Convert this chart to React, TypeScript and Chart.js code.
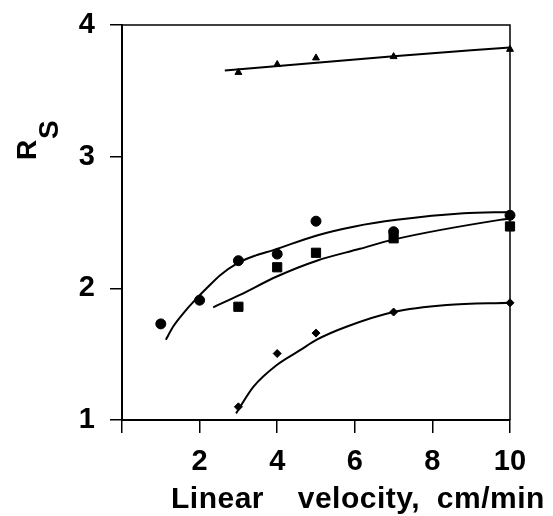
import React, { useEffect, useRef } from 'react';
import { Chart, registerables } from 'chart.js';

Chart.register(...registerables);

// Measured markers
const triX = [3, 4, 5, 7, 10];
const triY = [3.64, 3.7, 3.75, 3.76, 3.815];
const cirX = [1, 2, 3, 4, 5, 7, 10];
const cirY = [1.73, 1.91, 2.21, 2.26, 2.51, 2.43, 2.555];
const sqX = [3, 4, 5, 7, 10];
const sqY = [1.86, 2.16, 2.27, 2.38, 2.47];
const diaX = [3, 4, 5, 7, 10];
const diaY = [1.1, 1.505, 1.66, 1.82, 1.89];

// Hand-drawn fitted curves
const triCurveX = [2.65, 7, 10];
const triCurveY = [3.655, 3.762, 3.83];
const cirCurveX = [1.13, 1.32, 1.58, 1.88, 2.18, 2.53, 2.97, 3.45, 3.9, 5.0, 6.0, 7.08, 8.8, 10];
const cirCurveY = [1.61, 1.71, 1.81, 1.91, 2.0, 2.1, 2.19, 2.25, 2.29, 2.4, 2.47, 2.52, 2.57, 2.58];
const sqCurveX = [2.35, 3.04, 3.99, 5.02, 6.13, 6.99, 9.74, 10];
const sqCurveY = [1.856, 1.95, 2.09, 2.21, 2.3, 2.37, 2.52, 2.53];
const diaCurveX = [2.94, 3.38, 4, 4.59, 5.02, 5.8, 7, 8.37, 10];
const diaCurveY = [1.05, 1.25, 1.42, 1.53, 1.61, 1.71, 1.82, 1.873, 1.89];

// Ticks and labels
const xTickValues = [0, 2, 4, 6, 8, 10];
const yTickValues = [1, 2, 3, 4];
const xTitle = 'Linear  velocity, cm/min';
const yTitleMain = 'R';
const yTitleSub = 'S';

const FONT = "'Liberation Sans', Arial, Helvetica, sans-serif";

const pts = (xs: number[], ys: number[]) => xs.map((x, i) => ({ x, y: ys[i] }));

const markerSet = (data: any, style: string, radius: number) => ({
  type: 'scatter' as const,
  data,
  showLine: false,
  pointStyle: style,
  pointRadius: radius,
  pointBackgroundColor: '#000',
  pointBorderColor: '#000',
  pointBorderWidth: 1,
  clip: false,
});

const curveSet = (data: any) => ({
  type: 'line' as const,
  data,
  showLine: true,
  borderColor: '#000',
  borderWidth: 2,
  pointRadius: 0,
  fill: false,
  cubicInterpolationMode: 'monotone' as const,
  clip: false,
});

const framePlugin = {
  id: 'frame',
  afterDraw(chart: any) {
    const { ctx, chartArea } = chart;
    const { left, right, top, bottom } = chartArea;
    ctx.save();
    ctx.strokeStyle = '#000';
    ctx.lineWidth = 1.5;
    ctx.beginPath();
    ctx.moveTo(left, top);
    ctx.lineTo(right, top);
    ctx.lineTo(right, bottom);
    ctx.stroke();

    // x title
    ctx.fillStyle = '#000';
    ctx.font = `bold 30px ${FONT}`;
    (ctx as any).wordSpacing = '8px';
    (ctx as any).letterSpacing = '0.5px';
    ctx.textAlign = 'left';
    ctx.textBaseline = 'alphabetic';
    ctx.fillText(xTitle, 171, 508);
    (ctx as any).wordSpacing = '0px';
    (ctx as any).letterSpacing = '0px';

    // y title R_S rotated
    ctx.translate(36, 160);
    ctx.rotate(-Math.PI / 2);
    ctx.font = `bold 28px ${FONT}`;
    ctx.fillText(yTitleMain, 0, 0);
    ctx.fillText(yTitleSub, 21, 22);
    ctx.restore();
  },
};

export default function App() {
  const ref = useRef<HTMLCanvasElement>(null);
  useEffect(() => {
    if (!ref.current) return;
    const chart = new Chart(ref.current, {
      type: 'scatter',
      data: {
        datasets: [
          curveSet(pts(triCurveX, triCurveY)),
          curveSet(pts(cirCurveX, cirCurveY)),
          curveSet(pts(sqCurveX, sqCurveY)),
          curveSet(pts(diaCurveX, diaCurveY)),
          markerSet(pts(triX, triY), 'triangle', 4),
          markerSet(pts(cirX, cirY), 'circle', 5),
          markerSet(pts(sqX, sqY), 'rect', 6.5),
          markerSet(pts(diaX, diaY), 'rectRot', 4),
        ] as any,
      },
      options: {
        animation: false,
        responsive: false,
        events: [],
        layout: { padding: { top: 25, right: 43, left: 0, bottom: 0 } },
        plugins: { legend: { display: false }, tooltip: { enabled: false } },
        scales: {
          x: {
            type: 'linear',
            min: 0,
            max: 10,
            afterBuildTicks: (s: any) => {
              s.ticks = xTickValues.map((v) => ({ value: v }));
            },
            afterFit: (s: any) => {
              s.height = 96;
              s.paddingLeft = 0;
              s.paddingRight = 0;
            },
            ticks: {
              color: '#000',
              font: { family: FONT, size: 29, weight: 'bold' },
              padding: 12,
              maxRotation: 0,
              callback: (v: any) => (v === 0 ? '' : String(v)),
            },
            grid: { drawOnChartArea: false, drawTicks: true, tickLength: 13, color: '#000', lineWidth: 1.5 },
            border: { display: true, color: '#000', width: 2 },
          },
          y: {
            type: 'linear',
            min: 1,
            max: 4,
            afterBuildTicks: (s: any) => {
              s.ticks = yTickValues.map((v) => ({ value: v }));
            },
            afterFit: (s: any) => {
              s.width = 122;
              s.paddingTop = 0;
              s.paddingBottom = 0;
            },
            ticks: {
              color: '#000',
              font: { family: FONT, size: 29, weight: 'bold' },
              padding: 15,
              callback: (v: any) => String(v),
            },
            grid: { drawOnChartArea: false, drawTicks: true, tickLength: 12, color: '#000', lineWidth: 1.5 },
            border: { display: true, color: '#000', width: 2 },
          },
        },
      },
      plugins: [framePlugin],
    });
    return () => chart.destroy();
  }, []);
  return (
    <div style={{ position: 'absolute', left: 0, top: 0, width: 553, height: 516, background: '#fff' }}>
      <canvas ref={ref} width={553} height={516} />
    </div>
  );
}
